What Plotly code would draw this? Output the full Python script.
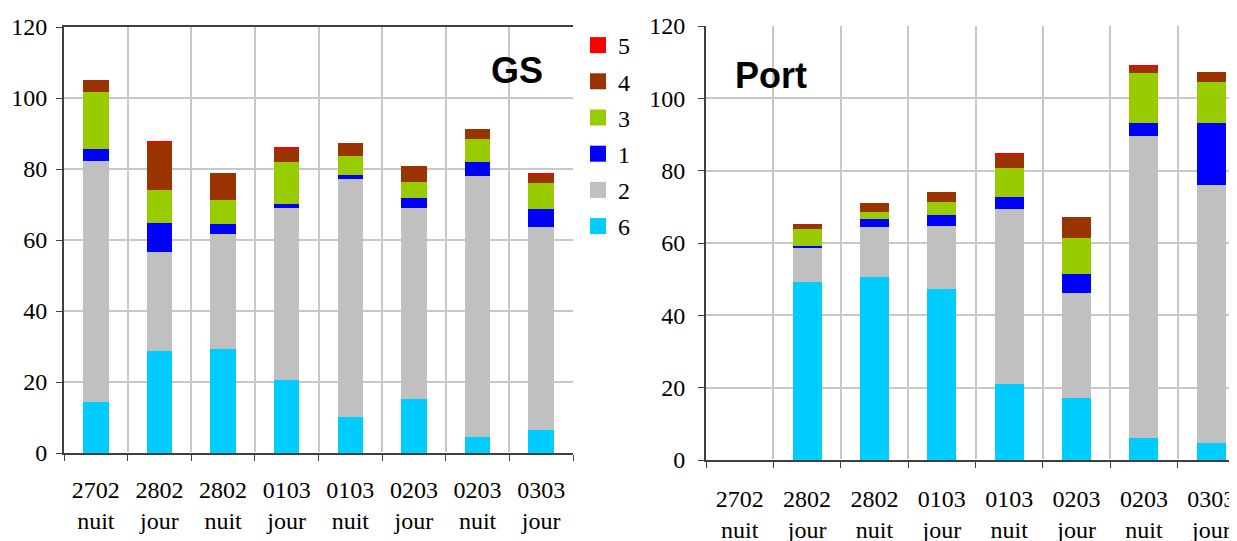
import plotly.graph_objects as go

categories = ["2702<br>nuit", "2802<br>jour", "2802<br>nuit", "0103<br>jour",
              "0103<br>nuit", "0203<br>jour", "0203<br>nuit", "0303<br>jour"]

# GS (left panel), stacked bottom -> top: 6, 2, 1, 3, 4, 5
gs_6 = [14.4, 28.7, 29.3, 20.6, 10.1, 15.2, 4.5, 6.5]
gs_2 = [67.9, 27.9, 32.4, 48.4, 67.1, 53.8, 73.5, 57.2]
gs_1 = [3.3, 8.2, 2.8, 1.1, 1.1, 2.8, 4.0, 5.0]
gs_3 = [16.1, 9.3, 6.8, 11.9, 5.4, 4.5, 6.5, 7.4]
gs_4 = [3.4, 13.3, 7.6, 3.6, 3.6, 4.5, 2.8, 2.2]
gs_5 = [0, 0.5, 0, 0.6, 0, 0, 0, 0.6]

# Port (right panel)
port_6 = [0, 49.2, 50.6, 47.3, 21.0, 17.1, 6.1, 4.7]
port_2 = [0, 9.4, 13.8, 17.4, 48.4, 29.1, 83.5, 71.3]
port_1 = [0, 0.6, 2.2, 3.0, 3.3, 5.2, 3.6, 17.2]
port_3 = [0, 4.7, 2.0, 3.6, 8.0, 10.0, 13.8, 11.3]
port_4 = [0, 1.3, 2.5, 2.8, 3.6, 5.8, 1.7, 2.8]
port_5 = [0, 0, 0, 0, 0.6, 0, 0.5, 0]

names = ["6", "2", "1", "3", "4", "5"]
colors = ["#00CCFF", "#C0C0C0", "#0000FF", "#99CC00", "#993300", "#FF0000"]
gs = [gs_6, gs_2, gs_1, gs_3, gs_4, gs_5]
port = [port_6, port_2, port_1, port_3, port_4, port_5]

serif = "Liberation Serif"
W, H = 1237, 541
# the page body adds an 8px margin, so positions below are page px - 8

fig = go.Figure()

for name, col, vals in zip(names, colors, gs):
    fig.add_trace(go.Bar(x=categories, y=vals, name=name, marker_color=col,
                         marker_line_width=0, width=0.4, showlegend=False,
                         xaxis="x", yaxis="y"))
for name, col, vals in zip(names, colors, port):
    fig.add_trace(go.Bar(x=categories, y=vals, name=name, marker_color=col,
                         marker_line_width=0, width=0.43, showlegend=False,
                         xaxis="x2", yaxis="y2"))

# legend entries (top -> bottom: 5, 4, 3, 1, 2, 6) with bigger square swatches
for name, col in zip(names[::-1], colors[::-1]):
    fig.add_trace(go.Scatter(x=[None], y=[None], mode="markers", name=name,
                             legendgroup=name,
                             marker=dict(symbol="square", size=16, color=col),
                             xaxis="x", yaxis="y"))

axis_common = dict(
    showline=True, linecolor="#404040", linewidth=2,
    gridcolor="#C8C8C8", gridwidth=1.5,
    tickfont=dict(family=serif, size=24, color="black"),
    ticks="outside", tickcolor="#404040", ticklen=6,
    automargin=False,
)

fig.update_layout(
    width=W, height=H,
    margin=dict(l=0, r=0, t=0, b=0, autoexpand=False),
    paper_bgcolor="white", plot_bgcolor="white",
    barmode="stack",
    bargap=0,
    xaxis=dict(domain=[56 / W, 565 / W], anchor="y", type="category",
               range=[-0.5, 7.5], tickson="boundaries", ticklabelstandoff=14,
               mirror=True, **axis_common),
    yaxis=dict(domain=[(H - 445) / H, (H - 19) / H], anchor="x",
               range=[0, 120], dtick=20, showgrid=True, ticklabelstandoff=4,
               **axis_common),
    xaxis2=dict(domain=[698 / W, 1.0], anchor="y2", type="category",
                range=[-0.5, 7.5], tickson="boundaries", ticklabelstandoff=16,
                **axis_common),
    yaxis2=dict(domain=[(H - 452) / H, (H - 18) / H], anchor="x2",
                range=[0, 120], dtick=20, showgrid=True, ticklabelstandoff=8,
                **axis_common),
    legend=dict(x=570 / W, y=1 - 15 / H, xanchor="left", yanchor="top",
                traceorder="grouped", tracegroupgap=2,
                font=dict(family=serif, size=24, color="black"),
                bgcolor="rgba(0,0,0,0)"),
    annotations=[
        dict(text="<b>GS</b>", x=509 / W, y=1 - 62 / H, xref="paper", yref="paper",
             xanchor="center", yanchor="middle", showarrow=False,
             font=dict(family="Liberation Sans", size=36, color="black")),
        dict(text="<b>Port</b>", x=763 / W, y=1 - 67 / H, xref="paper", yref="paper",
             xanchor="center", yanchor="middle", showarrow=False,
             font=dict(family="Liberation Sans", size=36, color="black")),
    ],
)

fig.write_html("out.html")
